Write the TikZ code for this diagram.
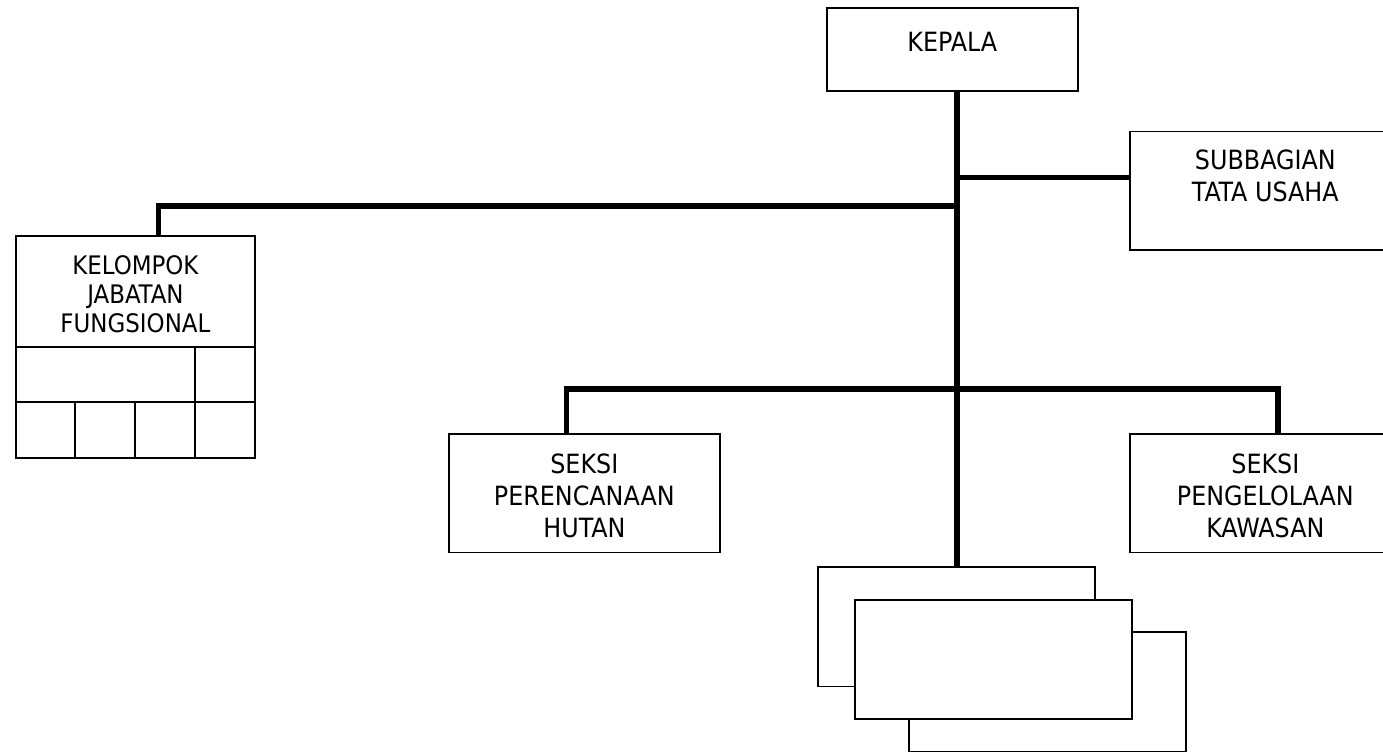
\documentclass[tikz,border=0pt]{standalone}
\usepackage{fontspec}
\setmainfont{DejaVu Sans Condensed}
\usepackage{tikz}
\usetikzlibrary{positioning}
\definecolor{hitam}{RGB}{0, 0, 0}
\tikzset{
    kotak/.style={draw=hitam, rectangle, line width=1.7pt, inner sep=0pt, anchor=north west, minimum width=271pt, minimum height=118.5pt},
    kotakTumpuk/.style={kotak, line width=1.9pt, fill=white, minimum width=277pt, minimum height=119.5pt},
    teks/.style={align=center, inner sep=0pt, anchor=north, text=hitam, font=\fontsize{26.5}{32}\selectfont},
    teksKecil/.style={teks, font=\fontsize{25.5}{28.8}\selectfont},
    garis/.style={-, hitam, line width=5.5pt},
    sekat/.style={-, hitam, line width=1.9pt},
}
\begin{document}
\begin{tikzpicture}[x=1pt, y=-1pt]
    \useasboundingbox (0,0) rectangle (1383,752);
    \clip (0,0) rectangle (1383,752);

    \node[kotak, minimum width=251pt, minimum height=83pt] (kep) at (826,7) {};
    \node[teks, below=25.3pt of kep.north] (kepT) {KEPALA};

    \node[kotak] (sub) at (1129,130.7) {};
    \node[teks, below=18.6pt of sub.north] (subT) {SUBBAGIAN\\TATA USAHA};

    \node[kotak, line width=1.9pt, minimum width=239pt, minimum height=221.7pt] (kel) at (15,235) {};
    \node[teksKecil, below=20.5pt of kel.north] (kelT) {KELOMPOK\\JABATAN\\FUNGSIONAL};
    \draw[sekat] (kel.west |- 0,347.3) -- (kel.east |- 0,347.3);
    \draw[sekat] (kel.west |- 0,401.7) -- (kel.east |- 0,401.7);
    \draw[sekat] (195,347.3) -- (kel.south -| 195,0);
    \foreach \x in {75,135}
        \draw[sekat] (\x,401.7) -- (kel.south -| \x,0);

    \node[kotak] (psl) at (448,433) {};
    \node[teks, below=20.3pt of psl.north] (pslT) {SEKSI\\PERENCANAAN\\HUTAN};

    \node[kotak] (ppk) at (1129,433) {};
    \node[teks, below=20.3pt of ppk.north] (ppkT) {SEKSI\\PENGELOLAAN\\KAWASAN};

    \node[kotakTumpuk] (tmp1) at (816.7,566) {};
    \node[kotakTumpuk] (tmp3) at (907.7,631) {};
    \node[kotakTumpuk, minimum height=119pt] (tmp2) at (854.3,599) {};

    \coordinate (c0) at (957,90);
    \coordinate (c1) at (957,177.5);
    \coordinate (c2) at (957,205.8);
    \coordinate (c3) at (158.3,205.8);
    \coordinate (c4) at (957,389);
    \coordinate (c5) at (566.7,389);
    \coordinate (c6) at (1278,389);

    \draw[garis] (c0) -- (tmp1.north -| c0);
    \draw[garis] (c1) -- (sub.west |- c1);
    \draw[garis] (c2) -- (c3) -- (kel.north -| c3);
    \draw[garis] (psl.north -| c5) -- (c5) -- (c6) -- (ppk.north -| c6);
\end{tikzpicture}
\end{document}
